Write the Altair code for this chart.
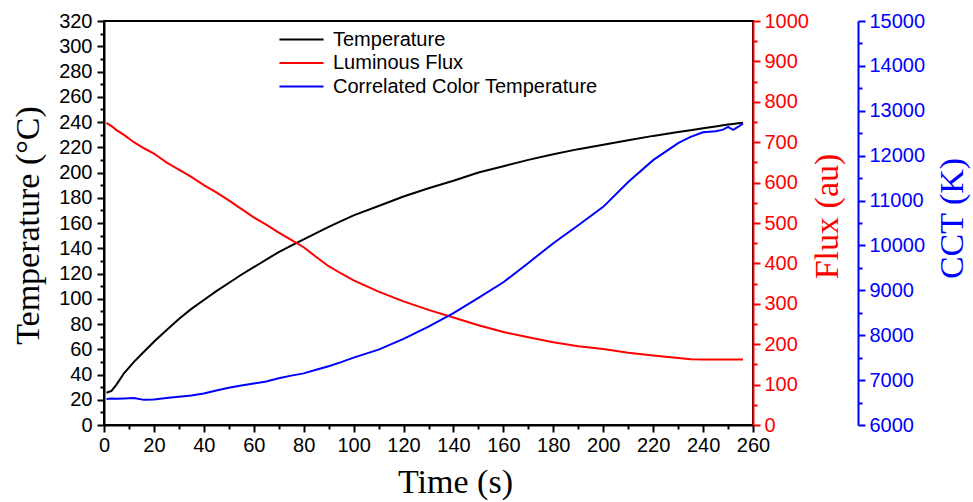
import altair as alt
import pandas as pd

# ---- data ----
time_s = [1, 3, 5, 8, 12, 16, 20, 25, 30, 35, 40, 45, 50, 55, 60, 65, 70, 75, 80, 85,
          90, 95, 100, 110, 120, 130, 140, 150, 160, 170, 180, 190, 200, 210, 220, 230,
          235, 240, 245, 248, 250, 252, 254, 256]
temperature_c = [25.5, 27, 32, 41, 50, 58, 66, 75, 84, 92, 99, 106, 112.5, 119, 125, 131,
                 137, 142, 147, 152, 157, 161.5, 166, 173.5, 181, 187.5, 193.5, 200, 205,
                 210, 214.5, 218.5, 222, 225.5, 229, 232, 233.5, 235, 236.5, 237.5, 238,
                 238.5, 239, 239.5]
flux_au = [748, 740, 730, 718, 700, 685, 672, 650, 632, 614, 594, 576, 556, 535, 514, 496,
           476, 458, 440, 416, 393, 375, 358, 330, 306, 285, 266, 247, 230, 217, 205, 195,
           188, 179, 172, 166, 163, 162, 162, 162, 162, 162, 162, 162]
cct_k = [6580, 6590, 6585, 6590, 6600, 6560, 6570, 6600, 6630, 6655, 6700, 6770, 6830,
         6880, 6925, 6970, 7040, 7100, 7150, 7230, 7310, 7400, 7500, 7680, 7920, 8190,
         8490, 8830, 9180, 9610, 10050, 10450, 10860, 11415, 11900, 12280, 12420, 12520,
         12545, 12580, 12640, 12575, 12640, 12720]

series_names = ["Temperature", "Luminous Flux", "Correlated Color Temperature"]
series_colors = ["#000000", "#ff0000", "#0000ff"]

x_major = list(range(0, 261, 20))
x_minor = list(range(10, 261, 20))
temp_major = list(range(0, 321, 20))
temp_minor = list(range(10, 321, 20))
flux_major = list(range(0, 1001, 100))
flux_minor = list(range(50, 1001, 100))
cct_major = list(range(6000, 15001, 1000))
cct_minor = list(range(6500, 15001, 1000))

df = pd.DataFrame({"Time": time_s, "Temp": temperature_c, "Flux": flux_au, "CCT": cct_k})

LABEL_FONT = "Liberation Sans"
TITLE_FONT = "Liberation Serif"
RED = "#ff0000"
BLUE = "#0000ff"

x_scale = alt.Scale(domain=[0, 260], nice=False, zero=False)
temp_scale = alt.Scale(domain=[0, 320], nice=False)
flux_scale = alt.Scale(domain=[0, 1000], nice=False)
cct_scale = alt.Scale(domain=[6000, 15000], nice=False, zero=False)

color_scale = alt.Scale(domain=series_names, range=series_colors)
legend = alt.Legend(
    title=None, orient="none", legendX=186, legendY=7,
    symbolType="M-2.1,0H2.1", symbolSize=441, symbolStrokeWidth=2,
    labelFontSize=20, labelFont=LABEL_FONT, labelColor="#000000", labelLimit=0,
    rowPadding=1.5, labelOffset=20, padding=0,
)
color_enc = alt.Color("series:N", scale=color_scale, legend=legend, sort=series_names)

base = alt.Chart(df)

# ---- visible lines with major axes ----
temp_line = base.transform_calculate(series="'Temperature'").mark_line(strokeWidth=2).encode(
    x=alt.X("Time:Q", scale=x_scale, axis=alt.Axis(
        title="Time (s)", orient="bottom", values=x_major, format="d",
        titleX=351, titleY=67, titleAlign="center", titleBaseline="alphabetic",
        labelPadding=3,
    )),
    y=alt.Y("Temp:Q", scale=temp_scale, axis=alt.Axis(
        title="Temperature (°C)", orient="left", values=temp_major, format="d",
        titleX=-66, titleY=204, titleAngle=270, titleAlign="center",
        titleBaseline="alphabetic", labelPadding=5,
    )),
    color=color_enc,
)

flux_line = base.transform_calculate(series="'Luminous Flux'").mark_line(strokeWidth=2).encode(
    x=alt.X("Time:Q", scale=x_scale, axis=None),
    y=alt.Y("Flux:Q", scale=flux_scale, axis=alt.Axis(
        title="Flux (au)", orient="right", values=flux_major, format="d",
        domainColor=RED, tickColor=RED, labelColor=RED, titleColor=RED,
        titleX=84, titleY=195, titleAngle=270, titleAlign="center",
        titleBaseline="alphabetic", labelPadding=4,
    )),
    color=color_enc,
)

cct_line = base.transform_calculate(series="'Correlated Color Temperature'").mark_line(strokeWidth=2).encode(
    x=alt.X("Time:Q", scale=x_scale, axis=None),
    y=alt.Y("CCT:Q", scale=cct_scale, axis=alt.Axis(
        title="CCT (K)", orient="right", offset=105, values=cct_major, format="d",
        domainColor=BLUE, tickColor=BLUE, labelColor=BLUE, titleColor=BLUE,
        titleX=104, titleY=197, titleAngle=270, titleAlign="center",
        titleBaseline="alphabetic", labelPadding=4,
    )),
    color=color_enc,
)

# ---- invisible layers that only carry the shorter minor ticks ----
def minor_axis(orient, values, color, offset=0):
    return alt.Axis(orient=orient, values=values, labels=False, domain=False,
                    title=None, tickSize=4, tickColor=color, offset=offset)

temp_minor_layer = base.mark_line(strokeOpacity=0).encode(
    x=alt.X("Time:Q", scale=x_scale, axis=minor_axis("bottom", x_minor, "#000000")),
    y=alt.Y("Temp:Q", scale=temp_scale, axis=minor_axis("left", temp_minor, "#000000")),
)
flux_minor_layer = base.mark_line(strokeOpacity=0).encode(
    x=alt.X("Time:Q", scale=x_scale, axis=None),
    y=alt.Y("Flux:Q", scale=flux_scale, axis=minor_axis("right", flux_minor, RED)),
)
cct_minor_layer = base.mark_line(strokeOpacity=0).encode(
    x=alt.X("Time:Q", scale=x_scale, axis=None),
    y=alt.Y("CCT:Q", scale=cct_scale, axis=minor_axis("right", cct_minor, BLUE, 105)),
)

chart = (
    alt.layer(temp_minor_layer, flux_minor_layer, cct_minor_layer,
              temp_line, flux_line, cct_line)
    .resolve_scale(x="independent", y="independent")
    .properties(
        width=649, height=404,
        autosize=alt.AutoSizeParams(type="none"),
        padding={"left": 104, "top": 21, "right": 220, "bottom": 77},
        background="#ffffff",
    )
    .configure_view(stroke="#000000", strokeWidth=2)
    .configure_axis(
        grid=False, domainWidth=2, domainColor="#000000", tickColor="#000000",
        tickWidth=2, tickSize=7, labelFontSize=20, labelFont=LABEL_FONT,
        labelColor="#000000", titleFont=TITLE_FONT, titleFontSize=34,
        titleFontWeight="normal", titleColor="#000000",
        labelOverlap=False, labelFlush=False,
    )
)

chart.save("out.html", embed_options={"renderer": "svg", "actions": False})
